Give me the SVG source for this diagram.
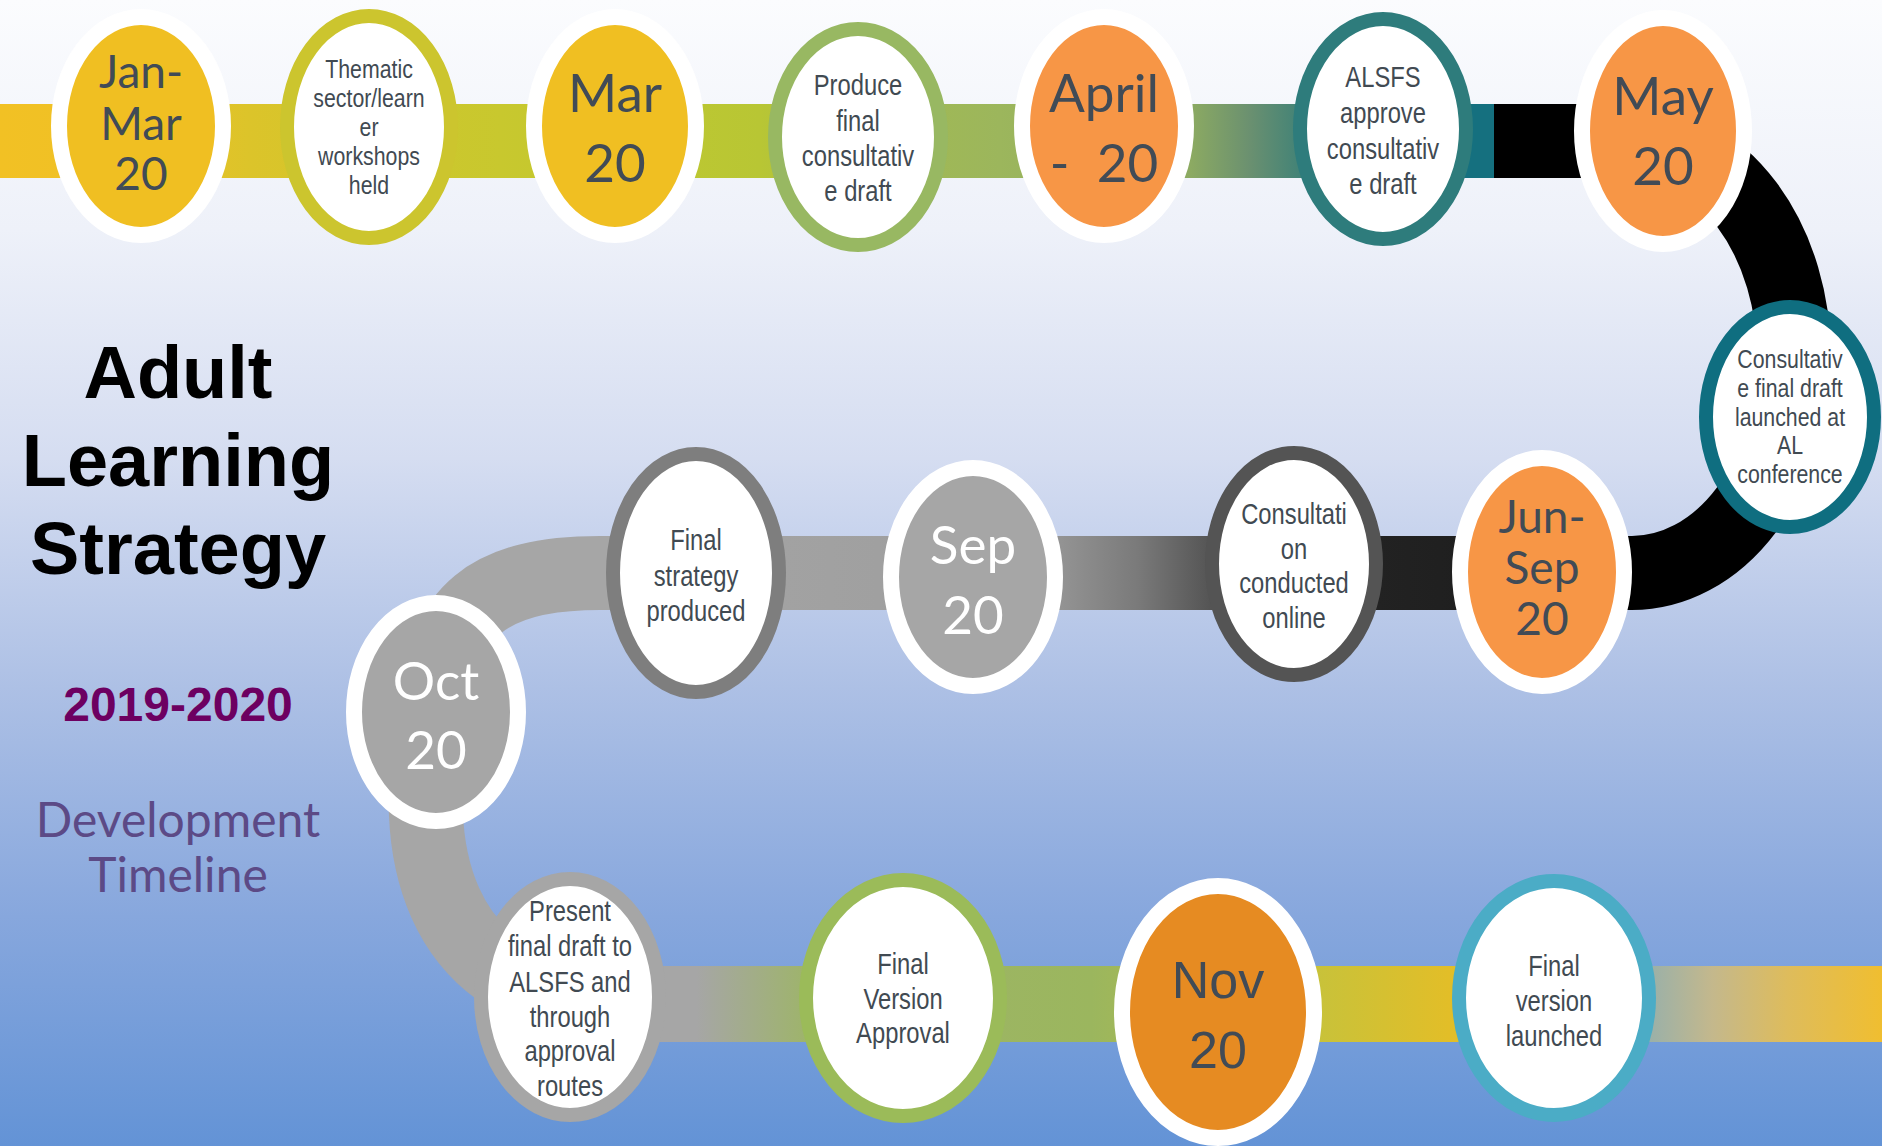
<svg xmlns="http://www.w3.org/2000/svg" width="1882" height="1146" viewBox="0 0 1882 1146">
<defs>
<linearGradient id="bg" x1="0" y1="0" x2="0" y2="1">
<stop offset="0" stop-color="#FBFCFE"/>
<stop offset="0.2" stop-color="#EEF1F9"/>
<stop offset="0.4" stop-color="#D5DDF1"/>
<stop offset="0.6" stop-color="#ADC0E5"/>
<stop offset="0.8" stop-color="#87A7DD"/>
<stop offset="1" stop-color="#6393D6"/>
</linearGradient>
<linearGradient id="gTop" gradientUnits="userSpaceOnUse" x1="0" y1="0" x2="1494" y2="0">
<stop offset="0" stop-color="#F2C124"/>
<stop offset="0.094" stop-color="#EEC126"/>
<stop offset="0.167" stop-color="#DCC42A"/>
<stop offset="0.248" stop-color="#D0C62C"/>
<stop offset="0.335" stop-color="#C8C82E"/>
<stop offset="0.415" stop-color="#C0C830"/>
<stop offset="0.509" stop-color="#B8C634"/>
<stop offset="0.589" stop-color="#A2BA52"/>
<stop offset="0.669" stop-color="#9CB65C"/>
<stop offset="0.797" stop-color="#8CAA62"/>
<stop offset="0.837" stop-color="#6A9070"/>
<stop offset="0.877" stop-color="#3A8078"/>
<stop offset="0.89" stop-color="#2E7C7C"/>
<stop offset="0.975" stop-color="#2E7C7C"/>
<stop offset="0.977" stop-color="#15707F"/>
<stop offset="1" stop-color="#15707F"/>
</linearGradient>
<linearGradient id="gMid" gradientUnits="userSpaceOnUse" x1="600" y1="0" x2="1560" y2="0">
<stop offset="0" stop-color="#A6A6A6"/>
<stop offset="0.19" stop-color="#A2A2A2"/>
<stop offset="0.29" stop-color="#A0A0A0"/>
<stop offset="0.48" stop-color="#939393"/>
<stop offset="0.56" stop-color="#7A7A7A"/>
<stop offset="0.635" stop-color="#555555"/>
<stop offset="0.81" stop-color="#222222"/>
<stop offset="1" stop-color="#1C1C1C"/>
</linearGradient>
<linearGradient id="gBot" gradientUnits="userSpaceOnUse" x1="0" y1="0" x2="1882" y2="0">
<stop offset="0.30" stop-color="#A6A6A6"/>
<stop offset="0.37" stop-color="#A6A6A6"/>
<stop offset="0.43" stop-color="#9EB46A"/>
<stop offset="0.58" stop-color="#9BB65E"/>
<stop offset="0.62" stop-color="#A8BA52"/>
<stop offset="0.70" stop-color="#C8C23A"/>
<stop offset="0.77" stop-color="#E2BE28"/>
<stop offset="0.83" stop-color="#D0BC40"/>
<stop offset="0.875" stop-color="#98B0AA"/>
<stop offset="0.91" stop-color="#C4B88C"/>
<stop offset="0.95" stop-color="#DEBC5C"/>
<stop offset="1" stop-color="#F0BE30"/>
</linearGradient>
<style>
.date ellipse{stroke:#FFFFFF;stroke-width:16}
.date text{font-family:Lato,"Open Sans",sans-serif;font-size:53px;fill:#414B56;text-anchor:middle}
.date text.w{fill:#FFFFFF}
.date text.t{font-size:46px}
.note ellipse{fill:#FFFFFF;stroke-width:14}
.note text{font-family:"Liberation Sans",Arial,sans-serif;font-size:29px;fill:#414A52;text-anchor:middle}
.note text.s{font-size:26px}
.title{font-family:"Liberation Sans",Arial,sans-serif;font-weight:bold;font-size:74px;fill:#000000;text-anchor:middle}
.band{fill:none;stroke-width:74}
</style>
</defs>
<rect x="0" y="0" width="1882" height="1146" fill="url(#bg)"/>

<g id="connectors">
<rect x="0" y="104" width="1494" height="74" fill="url(#gTop)"/>
<path class="band" stroke="#000000" d="M 1494 141 H 1632 A 162 216 0 0 1 1632 573 H 1520"/>
<rect x="600" y="536" width="960" height="74" fill="url(#gMid)"/>
<path class="band" stroke="#A6A6A6" d="M 650 573 H 600 C 490 573 440 610 436 712 C 405 850 440 985 590 1003"/>
<rect x="565" y="966" width="1317" height="76" fill="url(#gBot)"/>
</g>

<g id="title">
<text class="title" x="178" y="398">Adult</text>
<text class="title" x="178" y="486">Learning</text>
<text class="title" x="178" y="574">Strategy</text>
<text x="178" y="721" font-family="Liberation Sans, Arial, sans-serif" font-weight="bold" font-size="48" fill="#6D0061" text-anchor="middle">2019-2020</text>
<text x="178" y="837" font-family="Lato, Open Sans, sans-serif" font-size="48" fill="#5C4A86" text-anchor="middle">Development</text>
<text x="178" y="892" font-family="Lato, Open Sans, sans-serif" font-size="48" fill="#5C4A86" text-anchor="middle">Timeline</text>
</g>

<g id="n-janmar" class="date">
<ellipse cx="141" cy="126" rx="82" ry="109" fill="#F0BF22"/>
<text class="t" x="141" y="88">Jan-</text>
<text class="t" x="141" y="140">Mar</text>
<text class="t" x="141" y="190">20</text>
</g>

<g id="n-thematic" class="note">
<ellipse cx="369" cy="127" rx="82" ry="111" stroke="#CCC52E"/>
<g transform="translate(369 0) scale(0.82 1)">
<text class="s" x="0" y="78">Thematic</text>
<text class="s" x="0" y="107">sector/learn</text>
<text class="s" x="0" y="136">er</text>
<text class="s" x="0" y="165">workshops</text>
<text class="s" x="0" y="194">held</text>
</g>
</g>

<g id="n-mar" class="date">
<ellipse cx="615" cy="126" rx="81" ry="109" fill="#F0BF22"/>
<text x="615" y="112">Mar</text>
<text x="615" y="182">20</text>
</g>

<g id="n-produce" class="note">
<ellipse cx="858" cy="137" rx="83" ry="108" stroke="#98B862"/>
<g transform="translate(858 0) scale(0.82 1)">
<text x="0" y="95">Produce</text>
<text x="0" y="131">final</text>
<text x="0" y="166">consultativ</text>
<text x="0" y="201">e draft</text>
</g>
</g>

<g id="n-april" class="date">
<ellipse cx="1104" cy="126" rx="82" ry="109" fill="#F79646"/>
<text x="1104" y="112">April</text>
<text x="1104" y="182">-&#160; 20</text>
</g>

<g id="n-alsfs" class="note">
<ellipse cx="1383" cy="129" rx="83" ry="110" stroke="#2E7C7C"/>
<g transform="translate(1383 0) scale(0.82 1)">
<text x="0" y="87">ALSFS</text>
<text x="0" y="123">approve</text>
<text x="0" y="159">consultativ</text>
<text x="0" y="194">e draft</text>
</g>
</g>

<g id="n-may" class="date">
<ellipse cx="1663" cy="131" rx="81" ry="113" fill="#F79646"/>
<text x="1663" y="115">May</text>
<text x="1663" y="185">20</text>
</g>

<g id="n-conference" class="note">
<ellipse cx="1790" cy="417" rx="84" ry="110" stroke="#0F6E80"/>
<g transform="translate(1790 0) scale(0.82 1)">
<text class="s" x="0" y="368">Consultativ</text>
<text class="s" x="0" y="397">e final draft</text>
<text class="s" x="0" y="426">launched at</text>
<text class="s" x="0" y="454">AL</text>
<text class="s" x="0" y="483">conference</text>
</g>
</g>

<g id="n-junsep" class="date">
<ellipse cx="1542" cy="572" rx="82" ry="114" fill="#F79646"/>
<text class="t" x="1542" y="533">Jun-</text>
<text class="t" x="1542" y="584">Sep</text>
<text class="t" x="1542" y="635">20</text>
</g>

<g id="n-consultation" class="note">
<ellipse cx="1294" cy="564" rx="82" ry="111" stroke="#545454"/>
<g transform="translate(1294 0) scale(0.82 1)">
<text x="0" y="524">Consultati</text>
<text x="0" y="559">on</text>
<text x="0" y="593">conducted</text>
<text x="0" y="628">online</text>
</g>
</g>

<g id="n-sep" class="date">
<ellipse cx="973" cy="577" rx="82" ry="109" fill="#A6A6A6"/>
<text class="w" x="973" y="564">Sep</text>
<text class="w" x="973" y="634">20</text>
</g>

<g id="n-final-strategy" class="note">
<ellipse cx="696" cy="573" rx="83" ry="119" stroke="#7E7E7E"/>
<g transform="translate(696 0) scale(0.82 1)">
<text x="0" y="550">Final</text>
<text x="0" y="586">strategy</text>
<text x="0" y="621">produced</text>
</g>
</g>

<g id="n-oct" class="date">
<ellipse cx="436" cy="712" rx="82" ry="109" fill="#A6A6A6"/>
<text class="w" x="436" y="700">Oct</text>
<text class="w" x="436" y="769">20</text>
</g>

<g id="n-present" class="note">
<ellipse cx="570" cy="997" rx="89" ry="118" stroke="#A6A6A6"/>
<g transform="translate(570 0) scale(0.82 1)">
<text x="0" y="921">Present</text>
<text x="0" y="956">final draft to</text>
<text x="0" y="992">ALSFS and</text>
<text x="0" y="1027">through</text>
<text x="0" y="1061">approval</text>
<text x="0" y="1096">routes</text>
</g>
</g>

<g id="n-approval" class="note">
<ellipse cx="903" cy="998" rx="97" ry="118" stroke="#9BBB59"/>
<g transform="translate(903 0) scale(0.82 1)">
<text x="0" y="974">Final</text>
<text x="0" y="1009">Version</text>
<text x="0" y="1043">Approval</text>
</g>
</g>

<g id="n-nov" class="date">
<ellipse cx="1218" cy="1012" rx="96" ry="126" fill="#E68B22"/>
<text x="1218" y="998" style="font-family:'Liberation Sans',Arial,sans-serif;font-size:52px">Nov</text>
<text x="1218" y="1068" style="font-family:'Liberation Sans',Arial,sans-serif;font-size:52px">20</text>
</g>

<g id="n-launched" class="note">
<ellipse cx="1554" cy="998" rx="95" ry="117" stroke="#4BACC6"/>
<g transform="translate(1554 0) scale(0.82 1)">
<text x="0" y="976">Final</text>
<text x="0" y="1011">version</text>
<text x="0" y="1046">launched</text>
</g>
</g>
</svg>
